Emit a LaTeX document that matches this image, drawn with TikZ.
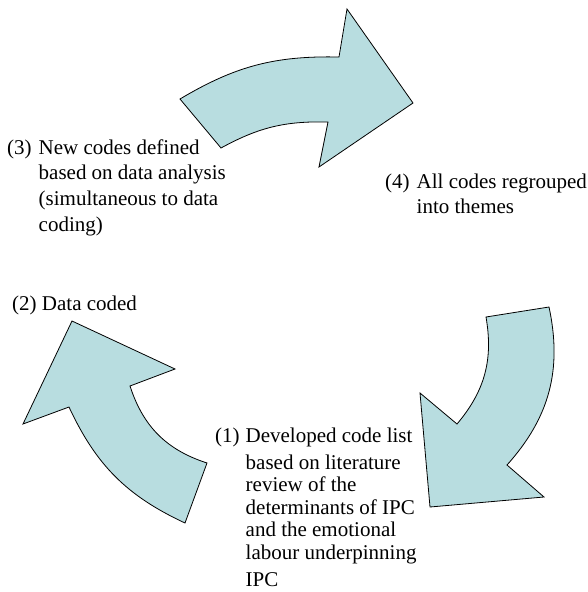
\documentclass[tikz,border=0pt]{standalone}
\usepackage{fontspec}
\setmainfont{Liberation Serif}
\definecolor{arrowfill}{RGB}{184,221,224}
\begin{document}
\begin{tikzpicture}[x=1pt,y=-1pt,
  blockarrow/.style={draw=black, line width=0.8pt, fill=arrowfill, line join=miter},
  steplabel/.style={anchor=base west, inner sep=0pt, align=left,
    font=\fontsize{21}{25.7}\selectfont}]
\useasboundingbox (0,0) rectangle (588,592);

% upper arrow, pointing right
\coordinate (t1) at (180,99);
\coordinate (t2) at (339,57);
\coordinate (t3) at (347,9);
\coordinate (t4) at (413,103);
\coordinate (t5) at (319,167);
\coordinate (t6) at (328,122);
\coordinate (t7) at (221,148);
\draw[blockarrow] (t1) to[bend left=16] (t2) -- (t3) -- (t4) -- (t5) -- (t6)
  to[bend right=15] (t7) -- cycle;

% right arrow, pointing down
\coordinate (r1) at (486,317);
\coordinate (r2) at (549,307);
\coordinate (r3) at (507,465);
\coordinate (r4) at (544,497);
\coordinate (r5) at (430,507);
\coordinate (r6) at (420,393);
\coordinate (r7) at (457,424);
\draw[blockarrow] (r1) -- (r2) to[bend left=27] (r3) -- (r4) -- (r5) -- (r6) -- (r7)
  to[bend right=25] (r1) -- cycle;

% left arrow, pointing up
\coordinate (l1) at (185,523);
\coordinate (l2) at (207,463);
\coordinate (l3) at (130,386);
\coordinate (l4) at (175,369);
\coordinate (l5) at (72,321);
\coordinate (l6) at (23,424);
\coordinate (l7) at (69,407);
\draw[blockarrow] (l1) -- (l2) to[bend left=27] (l3) -- (l4) -- (l5) -- (l6) -- (l7)
  to[bend right=20] (l1) -- cycle;

% step labels
\node[steplabel] (s3) at (7,154) {\begin{tabular}[t]{@{}l@{\hspace{7pt}}l@{}}
  (3) & New codes defined\\
      & based on data analysis\\
      & (simultaneous to data\\
      & coding)
  \end{tabular}};

\node[steplabel] (s4) at (385,188) {\begin{tabular}[t]{@{}l@{\hspace{7pt}}l@{}}
  (4) & All codes regrouped\\
      & into themes
  \end{tabular}};

\node[steplabel] (s2) at (12,310) {(2) Data coded};

\node[steplabel, font=\fontsize{21}{22.5}\selectfont] (s1) at (215,442)
  {\begin{tabular}[t]{@{}l@{\hspace{6pt}}l@{}}
  (1) & Developed code list\\[4.5pt]
      & based on literature\\
      & review of the\\
      & determinants of IPC\\
      & and the emotional\\
      & labour underpinning\\[4.5pt]
      & IPC
  \end{tabular}};
\end{tikzpicture}
\end{document}
